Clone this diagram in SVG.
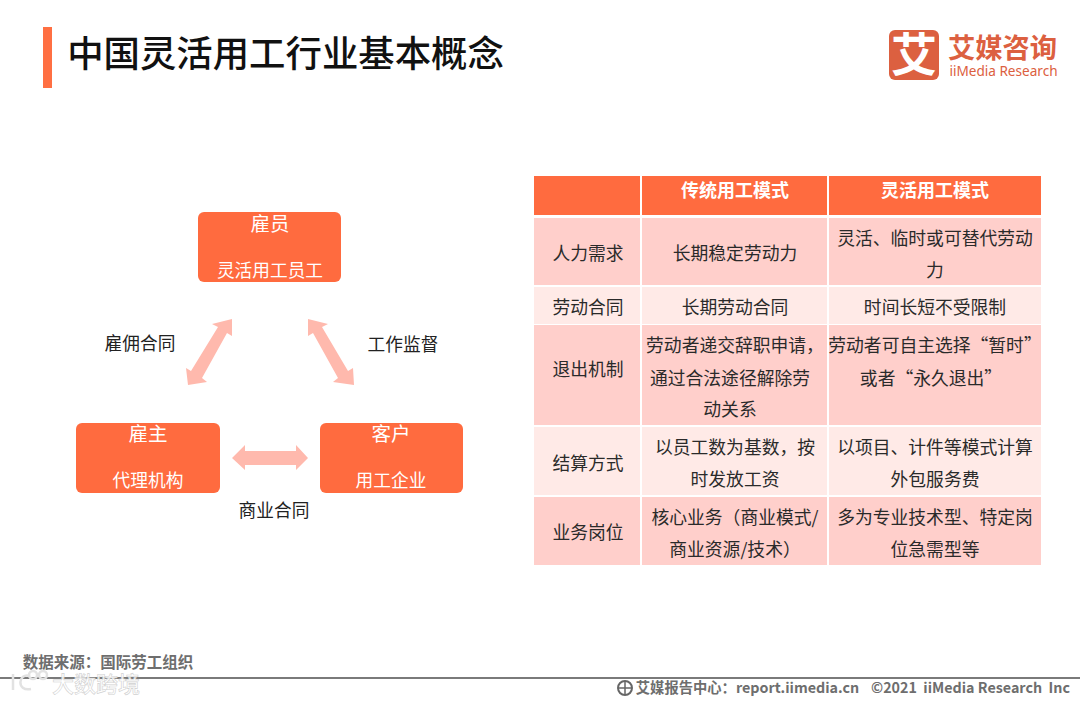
<svg xmlns="http://www.w3.org/2000/svg" width="1080" height="702" viewBox="0 0 1080 702">
<style>
text{font-family:"Noto Sans CJK SC","Liberation Sans",sans-serif;text-anchor:middle}
.n{fill:#ff6b3f}
.w{fill:#fff;font-size:17.7px}
.t{fill:#fff;font-size:19.5px}
.l{fill:#222;font-size:17.7px}
.c{fill:#2a2a2a;font-size:17.8px}
.h{fill:#fff;font-size:18px;font-weight:700}
.d{fill:#ffcfcb}.e{fill:#ffeae7}
.a{fill:#ffb9ad}
.f{fill:#6e6e6e;font-size:15.5px;font-weight:700}
.g{fill:#6e6e6e;font-size:14.3px;font-weight:700}
.m{fill:none;stroke:#e2e2e2;stroke-width:2.5}
</style>
<rect width="1080" height="702" fill="#fff"/>
<g id="title">
<rect x="43" y="27" width="9" height="61" fill="#ff6f42"/>
<text x="285.5" y="67" style="font-size:36.4px;font-weight:500" fill="#111">中国灵活用工行业基本概念</text>
</g>
<g id="logo">
<rect x="889" y="30" width="50" height="50" rx="6" fill="#dc6040"/>
<text x="914" y="71" style="font-size:46px;font-weight:700" fill="#fff">艾</text>
<text x="1002.500" y="58" style="font-size:27.3px;font-weight:700" fill="#dc6040">艾媒咨询</text>
<text x="1003.5" y="76" style="font-size:13.6px;font-family:'Noto Sans','Liberation Sans',sans-serif" fill="#dc6040">iiMedia Research</text>
</g>
<g id="connectors">
<polygon class="a" points="232,319 232,336 227,333 202,378 207,382 188,385 186,368 191,371 218,327 212,324"/>
<polygon class="a" points="308,319 328,324 322,327 348,371 353,368 354,385 333,382 338,378 313,333 308,336"/>
<polygon class="a" points="232,458 245,445 245,451 296,451 296,445 308,458 296,470 296,465 245,465 245,470"/>
</g>
<g id="node-employee">
<rect class="n" x="198" y="212" width="143" height="70" rx="6"/>
<text class="t" x="270" y="231">雇员</text>
<text class="w" x="270" y="277">灵活用工员工</text>
</g>
<g id="node-employer">
<rect class="n" x="76" y="423" width="144" height="70" rx="6"/>
<text class="t" x="148" y="441">雇主</text>
<text class="w" x="148" y="487">代理机构</text>
</g>
<g id="node-client">
<rect class="n" x="320" y="423" width="143" height="70" rx="6"/>
<text class="t" x="391" y="441">客户</text>
<text class="w" x="391" y="487">用工企业</text>
</g>
<g id="labels">
<text class="l" x="140" y="350">雇佣合同</text>
<text class="l" x="403" y="351">工作监督</text>
<text class="l" x="274" y="517">商业合同</text>
</g>
<g id="table">
<rect class="n" x="534" y="176" width="106" height="39"/>
<rect class="n" x="642" y="176" width="185" height="39"/>
<rect class="n" x="829" y="176" width="212" height="39"/>
<text class="h" x="735" y="197">传统用工模式</text>
<text class="h" x="935" y="197">灵活用工模式</text>

<rect class="d" x="534" y="218" width="106" height="67"/>
<rect class="d" x="642" y="218" width="185" height="67"/>
<rect class="d" x="829" y="218" width="212" height="67"/>
<rect class="e" x="534" y="287" width="106" height="37"/>
<rect class="e" x="642" y="287" width="185" height="37"/>
<rect class="e" x="829" y="287" width="212" height="37"/>
<rect class="d" x="534" y="325" width="106" height="100"/>
<rect class="d" x="642" y="325" width="185" height="100"/>
<rect class="d" x="829" y="325" width="212" height="100"/>
<rect class="e" x="534" y="427" width="106" height="68"/>
<rect class="e" x="642" y="427" width="185" height="68"/>
<rect class="e" x="829" y="427" width="212" height="68"/>
<rect class="d" x="534" y="497" width="106" height="68"/>
<rect class="d" x="642" y="497" width="185" height="68"/>
<rect class="d" x="829" y="497" width="212" height="68"/>

<text class="c" x="588" y="260">人力需求</text>
<text class="c" x="735" y="260">长期稳定劳动力</text>
<text class="c" x="935" y="245">灵活、临时或可替代劳动</text>
<text class="c" x="935" y="277">力</text>
<text class="c" x="588" y="314">劳动合同</text>
<text class="c" x="735" y="314">长期劳动合同</text>
<text class="c" x="935" y="314">时间长短不受限制</text>
<text class="c" x="588" y="376">退出机制</text>
<text class="c" x="735" y="352">劳动者递交辞职申请，</text>
<text class="c" x="730" y="385">通过合法途径解除劳</text>
<text class="c" x="730" y="416">动关系</text>
<text class="c" x="935" y="352">劳动者可自主选择“暂时”</text>
<text class="c" x="931" y="385">或者“永久退出”</text>
<text class="c" x="588" y="470">结算方式</text>
<text class="c" x="735" y="454">以员工数为基数，按</text>
<text class="c" x="735" y="486">时发放工资</text>
<text class="c" x="935" y="454">以项目、计件等模式计算</text>
<text class="c" x="935" y="486">外包服务费</text>
<text class="c" x="588" y="539">业务岗位</text>
<text class="c" x="735" y="524">核心业务（商业模式/</text>
<text class="c" x="735" y="556">商业资源/技术）</text>
<text class="c" x="935" y="524">多为专业技术型、特定岗</text>
<text class="c" x="935" y="556">位急需型等</text>
</g>
<g id="footer">
<text class="f" x="108" y="668">数据来源：国际劳工组织</text>
<rect x="0" y="677" width="1080" height="2" fill="#7a7a7a"/>
<circle cx="625" cy="688" r="7" fill="none" stroke="#666" stroke-width="2"/>
<path d="M618 688H632M625 681V695" stroke="#666" stroke-width="1.5"/>
<text class="g" x="747.5" y="693">艾媒报告中心：report.iimedia.cn</text>
<text class="g" x="970.5" y="693" xml:space="preserve">©2021  iiMedia Research  Inc</text>
<text x="96" y="692" style="font-size:22px;font-weight:500" fill="#fff" fill-opacity=".9" stroke="#d0d0d0" stroke-width=".6">大数跨境</text>
<path class="m" d="M13 674V690M30 676C18 672 16 692 31 689"/>
<circle class="m" cx="33" cy="675" r="4"/>
<circle class="m" cx="43" cy="675" r="4"/>
</g>
</svg>
